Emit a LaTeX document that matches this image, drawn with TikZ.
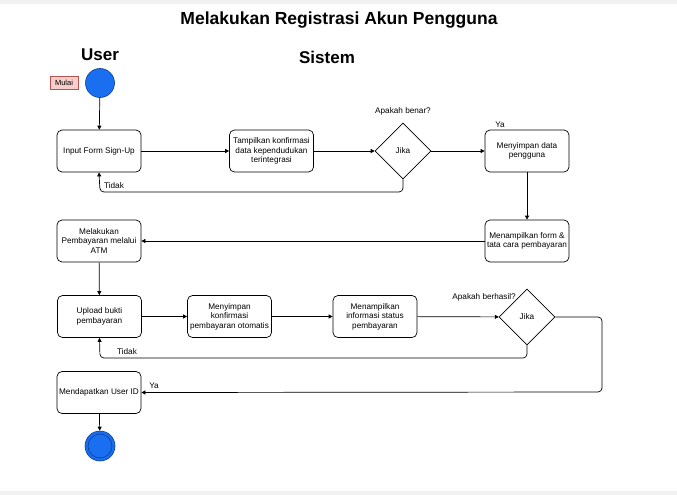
\documentclass[tikz,border=0pt]{standalone}
\usepackage{fontspec}
\setmainfont{Liberation Sans}
\usetikzlibrary{arrows.meta,shapes.geometric}
\definecolor{blu}{HTML}{1A6FF0}
\definecolor{bluedge}{HTML}{0B3E96}
\definecolor{mulaif}{HTML}{F8CECC}
\definecolor{mulaid}{HTML}{B85450}
\tikzset{
  x=1pt,y=-1pt,
  act/.style={draw=black,line width=0.7pt,rounded corners=5pt,minimum width=84pt,minimum height=42pt,align=center,font=\fontsize{8.2}{9.6}\selectfont,inner sep=0pt},
  dec/.style={draw=black,line width=0.6pt,diamond,minimum width=56pt,minimum height=56pt,inner sep=0pt,font=\fontsize{8.2}{9.6}\selectfont,aspect=1},
  flow/.style={line width=0.7pt,-{Triangle[length=4pt,width=4pt]},rounded corners=4pt},
  lbl/.style={font=\fontsize{8.2}{9.6}\selectfont,inner sep=0pt},
}
\begin{document}
\begin{tikzpicture}
\useasboundingbox (0,0) rectangle (677,495);
\fill[gray!10] (0,0) rectangle (677,4);
\fill[gray!10] (0,491) rectangle (677,495);
% titles
\node[font=\bfseries\fontsize{17.5}{20}\selectfont] (title) at (339,20) {Melakukan Registrasi Akun Pengguna};
\node[font=\bfseries\fontsize{17}{20}\selectfont] (user) at (100,55) {User};
\node[font=\bfseries\fontsize{17}{20}\selectfont] (sistem) at (327,57) {Sistem};
% start
\node[circle,draw=bluedge,fill=blu,line width=0.6pt,minimum size=29pt,inner sep=0pt] (start) at (100,83) {};
\node[draw=mulaid,fill=mulaif,line width=0.5pt,minimum width=28pt,minimum height=13pt,inner sep=0pt,font=\fontsize{7.5}{8}\selectfont] (mulai) at (64,83) {Mulai};
% row 1
\node[act] (b1) at (99,151) {Input Form Sign-Up};
\node[act] (b2) at (271.5,151) {Tampilkan konfirmasi\\data kependudukan\\terintegrasi};
\node[dec] (d1) at (403,151) {Jika};
\node[lbl] (q1) at (403,111) {Apakah benar?};
\node[act] (b3) at (527,151) {Menyimpan data\\pengguna};
\node[lbl] (ya1) at (500,125) {Ya};
% row 2
\node[act] (b4) at (527,241) {Menampilkan form \&\\tata cara pembayaran};
\node[act] (b5) at (99,241) {Melakukan\\Pembayaran melalui\\ATM};
% row 3
\node[act] (b6) at (99.5,316.5) {Upload bukti\\pembayaran};
\node[act] (b7) at (229.5,316.5) {Menyimpan\\konfirmasi\\pembayaran otomatis};
\node[act] (b8) at (375,316.5) {Menampilkan\\informasi status\\pembayaran};
\node[dec] (d2) at (527,317) {Jika};
\node[lbl,anchor=east] (q2) at (516,297) {Apakah berhasil?};
% row 4
\node[act] (b9) at (99,392.5) {Mendapatkan User ID};
\node[circle,draw=bluedge,fill=blu,line width=0.6pt,minimum size=30pt,inner sep=0pt] (endo) at (100,446) {};
\node[circle,draw=bluedge,line width=0.6pt,minimum size=24pt,inner sep=0pt] (endi) at (100,446) {};
% labels
\node[lbl] (t1) at (114,186) {Tidak};
\node[lbl] (t2) at (127,352) {Tidak};
\node[lbl] (ya2) at (154,386) {Ya};
% connectors
\draw[flow] (start) -- (b1);
\draw[flow] (b1) -- (b2);
\draw[flow] (b2) -- (d1);
\draw[flow] (d1) -- (b3);
\draw[flow] (d1.south) |- (100,192) -- (b1.south);
\draw[flow] (b3) -- (b4);
\draw[flow] (b4) -- (b5);
\draw[flow] (b5) -- (b6);
\draw[flow] (b6) -- (b7);
\draw[flow] (b7) -- (b8);
\draw[flow] (b8) -- (d2);
\draw[flow] (d2.south) |- (100,358) -- (b6.south);
\draw[flow] (d2.east) -| (602,392) -- (b9.east);
\draw[flow] (b9) -- (endo);
\end{tikzpicture}
\end{document}
